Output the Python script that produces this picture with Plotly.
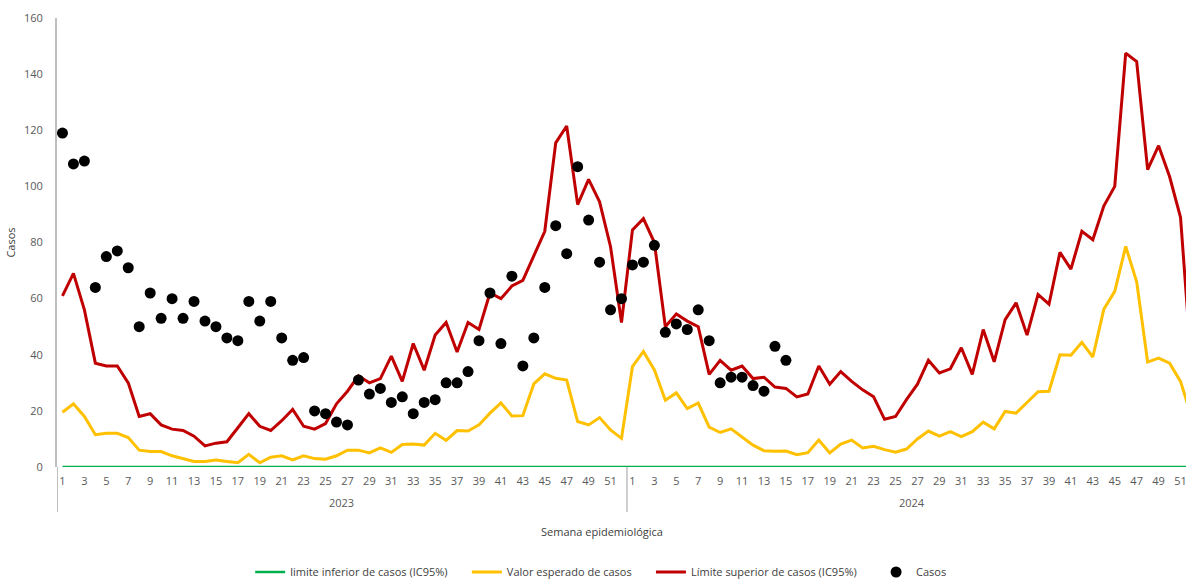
import plotly.graph_objects as go

years = ["2023", "2024"]
weeks = list(range(1, 53))

limite_superior_2023 = [61, 69, 56, 37, 36, 36, 30, 18, 19, 15, 13.5, 13, 11, 7.5, 8.5, 9, 14, 19, 14.5, 13, 16.5, 20.5, 14.5, 13.5,
                        15.5, 22.5, 27, 32.5, 30, 31.5, 39.5, 30.5, 44, 34.5, 47, 51.5, 41, 51.5, 49, 62, 60, 64.5, 66.5, 75.5, 84,
                        115.5, 121.5, 93.5, 102.5, 94.5, 78.5, 51.5]
limite_superior_2024 = [84.5, 88.5, 80, 50, 54.5, 52, 50, 33, 38, 34.5, 36, 31.5, 32, 28.5, 28, 25, 26, 36, 29.5, 34, 30.5, 27.5, 25, 17,
                        18, 24, 29.5, 38, 33.5, 35, 42.5, 33, 49, 37.5, 52.5, 58.5, 47, 61.5, 58, 76.5, 70.5, 84, 81, 93, 100,
                        147.5, 144.5, 106, 114.5, 103.5, 89, 36]
valor_esperado_2023 = [19.5, 22.5, 18, 11.5, 12, 12, 10.5, 6, 5.5, 5.5, 4, 3, 2, 2, 2.5, 2, 1.5, 4.5, 1.5, 3.5, 4, 2.5, 4, 3,
                       2.8, 4, 6, 6, 5, 6.8, 5.2, 8, 8.2, 7.8, 12, 9.5, 13, 12.8, 15, 19.2, 22.8, 18.2, 18.3, 29.6, 33.2,
                       31.6, 31, 16.2, 15, 17.6, 13.2, 10.2]
valor_esperado_2024 = [35.8, 41.2, 34.6, 23.8, 26.4, 20.8, 22.8, 14.2, 12.3, 13.6, 10.8, 7.8, 5.8, 5.6, 5.7, 4.4, 5.1, 9.6, 5, 8.2,
                       9.6, 6.8, 7.4, 6.2, 5.3, 6.4, 10, 12.8, 11, 12.6, 10.8, 12.6, 16, 13.6, 19.8, 19.2, 23, 26.8, 27, 40,
                       39.8, 44.4, 39.2, 56.2, 62.6, 78.6, 66, 37.4, 38.8, 37, 30.5, 18]
limite_inferior_2023 = [0] * 52
limite_inferior_2024 = [0] * 52
casos_2023 = [119, 108, 109, 64, 75, 77, 71, 50, 62, 53, 60, 53, 59, 52, 50, 46, 45, 59, 52, 59, 46, 38, 39, 20,
              19, 16, 15, 31, 26, 28, 23, 25, 19, 23, 24, 30, 30, 34, 45, 62, 44, 68, 36, 46, 64, 86, 76, 107, 88, 73, 56, 60]
casos_2024 = [72, 73, 79, 48, 51, 49, 56, 45, 30, 32, 32, 29, 27, 43, 38] + [None] * 37

xlabels = [f"{y}-{w}" for y in years for w in weeks]
xidx = list(range(len(xlabels)))

sup = limite_superior_2023 + limite_superior_2024
esp = valor_esperado_2023 + valor_esperado_2024
inf = limite_inferior_2023 + limite_inferior_2024
cas = casos_2023 + casos_2024

pad = "\u00a0" * 5
fig = go.Figure()
fig.add_trace(go.Scatter(x=xidx, y=inf, mode="lines", name="limite inferior de casos (IC95%)" + pad,
                         line=dict(color="#00B050", width=2.5)))
fig.add_trace(go.Scatter(x=xidx, y=esp, mode="lines", name="Valor esperado de casos" + pad,
                         line=dict(color="#FFC000", width=3)))
fig.add_trace(go.Scatter(x=xidx, y=sup, mode="lines", name="Límite superior de casos (IC95%)" + pad,
                         line=dict(color="#C00000", width=3)))
fig.add_trace(go.Scatter(x=xidx, y=cas, mode="markers", name="Casos",
                         marker=dict(color="black", size=11)))

tickvals = [i for i in xidx if (i % 52) % 2 == 0]
ticktext = [str(i % 52 + 1) for i in tickvals]

tick_font = dict(family="Open Sans, Liberation Sans, sans-serif", size=11, color="#595959")

fig.update_layout(
    width=1186, height=579,
    margin=dict(l=57, r=0, t=18, b=112, autoexpand=False),
    paper_bgcolor="white", plot_bgcolor="white",
    showlegend=True,
    legend=dict(orientation="h", x=0.482, xanchor="center", yref="container", y=(579 - 572) / 579,
                yanchor="middle",
                font=dict(family="Open Sans, sans-serif", size=11, color="#404040"),
                itemwidth=30, tracegroupgap=0),
    xaxis=dict(range=[-0.5, 102.5], tickvals=tickvals, ticktext=ticktext, tickfont=tick_font,
               showgrid=False, zeroline=False, showline=False, ticks="", ticklabelstandoff=6,
               ticklabeloverflow="allow", automargin=False),
    yaxis=dict(range=[0, 160], dtick=20, tickfont=tick_font, showgrid=False, zeroline=False,
               showline=True, linecolor="#BFBFBF", linewidth=2, ticks="", ticklabelstandoff=10,
               automargin=False,
               title=dict(text="Casos", font=dict(family="Open Sans, sans-serif", size=11, color="#404040"),
                          standoff=6)),
)

# axis extension lines (year dividers)
fig.add_shape(type="line", xref="x", yref="paper", x0=-0.5, x1=-0.5, y0=0, y1=-0.1, line=dict(color="#BFBFBF", width=2))
fig.add_shape(type="line", xref="x", yref="paper", x0=51.5, x1=51.5, y0=0, y1=-0.1, line=dict(color="#BFBFBF", width=1.5))

for k, y in enumerate(years):
    fig.add_annotation(x=25.5 + 52 * k, y=0, xref="x", yref="paper", yshift=-45, text=y, showarrow=False,
                       font=tick_font)
fig.add_annotation(x=0.483, y=0, xref="paper", yref="paper", yshift=-74, text="Semana epidemiológica",
                   showarrow=False, font=dict(family="Open Sans, sans-serif", size=11, color="#404040"))

fig.write_html("out.html", config={"displayModeBar": False},
               post_script="document.body.style.margin='0';document.body.style.overflow='hidden';")
